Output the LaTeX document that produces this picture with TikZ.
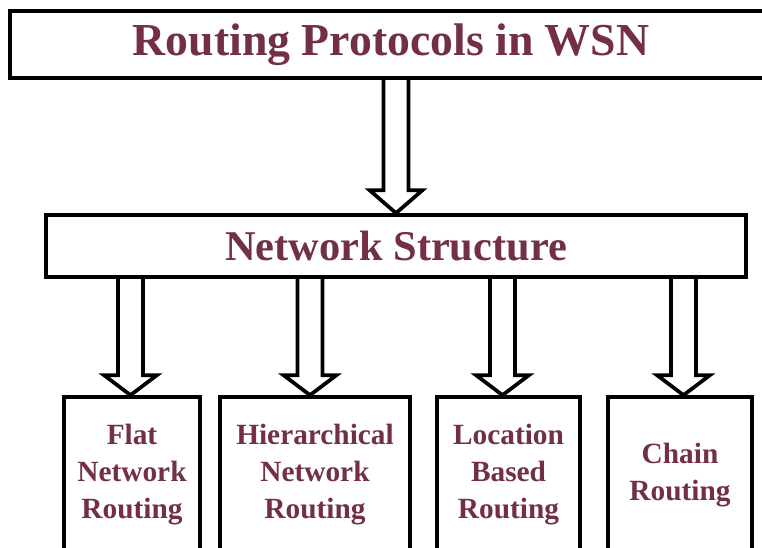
\documentclass[tikz,border=0pt]{standalone}
\usepackage{fontspec}
\setmainfont{Liberation Serif}
\usetikzlibrary{calc,backgrounds}
\definecolor{Maroon}{HTML}{722F45}
\tikzset{
  box/.style={draw=black,line width=2.8pt,fill=white,inner sep=0pt,text=Maroon},
  leaf/.style={box,minimum height=117pt,align=center,font=\fontsize{22}{27.75}\selectfont\bfseries},
  hollow/.style={draw=black,fill=white,line width=2.8pt,line join=miter}
}
% block arrow: [x offset] from, to, head length
\newcommand\hollowarrow[4][0]{%
  \coordinate (b) at ($(#3.north)+(#1,0)$);
  \coordinate (a) at (#2.south -| b);
  \draw[hollow] ($(a)+(-12.5,0)$) -- ($(b)+(-12.5,-#4)$) -- ($(b)+(-26.5,-#4)$) -- (b)
    -- ($(b)+(26.5,-#4)$) -- ($(b)+(12.5,-#4)$) -- ($(a)+(12.5,0)$);
}

\begin{document}
\begin{tikzpicture}[x=0.75pt,y=-0.75pt]
  \useasboundingbox (0,0) rectangle (762,547);
  \clip (0,0) rectangle (762,547);
  \node[box,minimum width=571.5pt,minimum height=50.25pt,font=\fontsize{34.3}{40}\selectfont\bfseries] (wsn) at (391,44.5) {\raisebox{-3pt}{Routing Protocols in WSN}};
  \node[box,minimum width=525pt,minimum height=46.5pt,font=\fontsize{31.8}{38}\selectfont\bfseries] (ns) at (396,246) {Network Structure};
  \node[leaf,minimum width=102pt] (flat) at (132,475) {Flat\\Network\\Routing};
  \node[leaf,minimum width=142.5pt] (hier) at (315,475) {Hierarchical\\Network\\Routing};
  \node[leaf,minimum width=107.25pt] (loc) at (508.5,475) {Location\\Based\\Routing};
  \node[leaf,minimum width=108pt] (chain) at (680,475) {Chain\\Routing};
  \begin{scope}[on background layer]
    \hollowarrow{wsn}{ns}{23}
    \hollowarrow[-1.5]{ns}{flat}{20}
    \hollowarrow[-5]{ns}{hier}{20}
    \hollowarrow[-6]{ns}{loc}{20}
    \hollowarrow[3.5]{ns}{chain}{20}
  \end{scope}
\end{tikzpicture}
\end{document}
